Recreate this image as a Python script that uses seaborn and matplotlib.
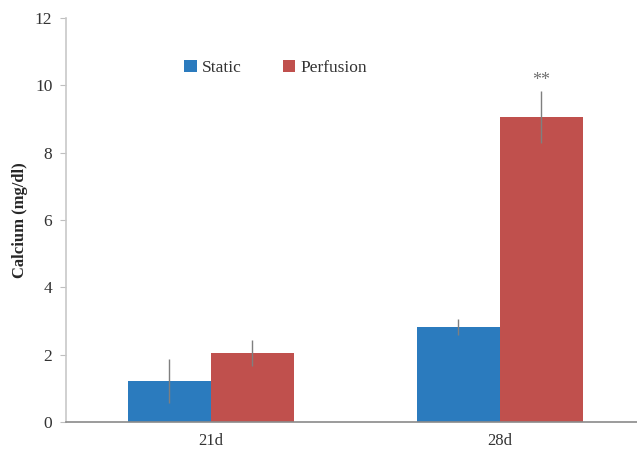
import pandas as pd
import numpy as np
import matplotlib.pyplot as plt
import seaborn as sns

# ----------- Data -----------
days = ["21d", "28d"]
groups = ["Static", "Perfusion"]
static_vals = [1.22, 2.82]
perfusion_vals = [2.05, 9.06]
static_err = [0.65, 0.24]
perfusion_err = [0.38, 0.77]
y_ticks = [0, 2, 4, 6, 8, 10, 12]

df = pd.DataFrame({
    "Day": days * 2,
    "Group": [groups[0]] * 2 + [groups[1]] * 2,
    "Calcium": static_vals + perfusion_vals,
    "Err": static_err + perfusion_err,
})

sns.set_style("white")
plt.rcParams["font.family"] = ["Liberation Serif", "DejaVu Serif"]

fig = plt.figure(figsize=(6.37, 4.51), dpi=100)
ax = fig.add_axes([0.104, 0.0643, 0.896, 0.8957])

palette = {"Static": "#2B7BBE", "Perfusion": "#C0504D"}
sns.barplot(data=df, x="Day", y="Calcium", hue="Group", hue_order=groups,
            order=days, palette=palette, width=0.574, errorbar=None,
            saturation=1, linewidth=0, edgecolor="none", ax=ax)

# error bars, one per bar, placed at the bar centers
for bars, grp in zip(ax.containers, groups):
    sub = df[df["Group"] == grp].set_index("Day").loc[days]
    xs = [b.get_x() + b.get_width() / 2 for b in bars]
    ax.errorbar(xs, sub["Calcium"], yerr=sub["Err"], fmt="none",
                ecolor="#7f7f7f", elinewidth=1, capsize=0)

# significance mark over 28d perfusion
last = ax.containers[1][1]
ax.text(last.get_x() + last.get_width() / 2,
        perfusion_vals[1] + perfusion_err[1] + 0.05, "**",
        ha="center", va="bottom", fontsize=13, color="#707070")

ax.set_ylim(0, 12)
ax.set_yticks(y_ticks)
ax.set_xlim(-0.5, 1.474)
ax.set_xlabel("")
ax.set_ylabel("Calcium (mg/dl)", fontsize=12, fontweight="bold", labelpad=5)

ax.tick_params(axis="y", labelsize=12.5, length=4, width=0.8,
               color="#bfbfbf", direction="out", left=True, pad=6,
               labelcolor="#333333")
ax.tick_params(axis="x", labelsize=12, length=0, pad=8, labelcolor="#333333")

for side in ["top", "right"]:
    ax.spines[side].set_visible(False)
ax.spines["left"].set_color("#c8c8c8")
ax.spines["left"].set_linewidth(1.2)
ax.spines["bottom"].set_color("#8a8a8a")
ax.spines["bottom"].set_linewidth(1.2)

leg = ax.legend(loc="center left", bbox_to_anchor=(0.195, 0.876), ncol=2,
                frameon=False, fontsize=12.5, handlelength=0.7,
                handleheight=0.7, handletextpad=0.3, columnspacing=2.4,
                borderaxespad=0)
for t in leg.get_texts():
    t.set_color("#333333")

fig.savefig("out.png", dpi=100)
